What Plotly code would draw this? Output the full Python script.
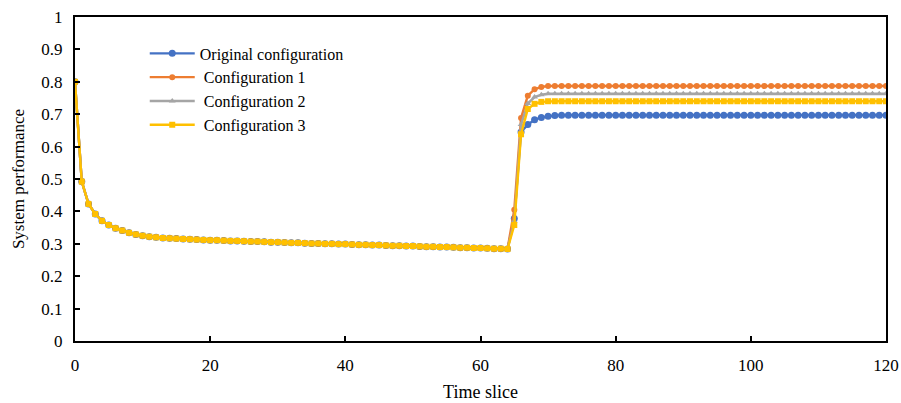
import plotly.graph_objects as go

# Time slices 0..120
time_slice = list(range(0, 121))

# Shared decay phase (slices 0..64), identical across configurations
decay_phase = [
    0.800, 0.492, 0.423, 0.392, 0.371, 0.358, 0.348, 0.341, 0.334, 0.329,
    0.325, 0.322, 0.320, 0.318, 0.317, 0.316, 0.315, 0.314, 0.313, 0.312,
    0.311, 0.311, 0.310, 0.309, 0.309, 0.308, 0.307, 0.307, 0.306, 0.305,
    0.305, 0.304, 0.303, 0.303, 0.302, 0.301, 0.301, 0.300, 0.300, 0.299,
    0.299, 0.298, 0.297, 0.297, 0.296, 0.296, 0.295, 0.294, 0.294, 0.293,
    0.293, 0.292, 0.291, 0.291, 0.290, 0.290, 0.289, 0.288, 0.288, 0.287,
    0.287, 0.286, 0.285, 0.285, 0.284,
]

# Recovery phase (slices 65..120) for each configuration
recovery_original = [
    0.378, 0.645, 0.668, 0.683, 0.690, 0.694, 0.696, 0.697, 0.697, 0.697,
    0.697, 0.697, 0.697, 0.697, 0.697, 0.697, 0.697, 0.697, 0.697, 0.697,
    0.697, 0.697, 0.697, 0.697, 0.697, 0.697, 0.697, 0.697, 0.697, 0.697,
    0.697, 0.697, 0.697, 0.697, 0.697, 0.697, 0.697, 0.697, 0.697, 0.697,
    0.697, 0.697, 0.697, 0.697, 0.697, 0.697, 0.697, 0.697, 0.697, 0.697,
    0.697, 0.697, 0.697, 0.697, 0.697, 0.697,
]
recovery_config1 = [
    0.405, 0.688, 0.757, 0.777, 0.784, 0.787, 0.787, 0.787, 0.787, 0.787,
    0.787, 0.787, 0.787, 0.787, 0.787, 0.787, 0.787, 0.787, 0.787, 0.787,
    0.787, 0.787, 0.787, 0.787, 0.787, 0.787, 0.787, 0.787, 0.787, 0.787,
    0.787, 0.787, 0.787, 0.787, 0.787, 0.787, 0.787, 0.787, 0.787, 0.787,
    0.787, 0.787, 0.787, 0.787, 0.787, 0.787, 0.787, 0.787, 0.787, 0.787,
    0.787, 0.787, 0.787, 0.787, 0.787, 0.787,
]
recovery_config2 = [
    0.370, 0.668, 0.733, 0.753, 0.760, 0.763, 0.763, 0.763, 0.763, 0.763,
    0.763, 0.763, 0.763, 0.763, 0.763, 0.763, 0.763, 0.763, 0.763, 0.763,
    0.763, 0.763, 0.763, 0.763, 0.763, 0.763, 0.763, 0.763, 0.763, 0.763,
    0.763, 0.763, 0.763, 0.763, 0.763, 0.763, 0.763, 0.763, 0.763, 0.763,
    0.763, 0.763, 0.763, 0.763, 0.763, 0.763, 0.763, 0.763, 0.763, 0.763,
    0.763, 0.763, 0.763, 0.763, 0.763, 0.763,
]
recovery_config3 = [
    0.358, 0.638, 0.716, 0.732, 0.738, 0.740, 0.740, 0.740, 0.740, 0.740,
    0.740, 0.740, 0.740, 0.740, 0.740, 0.740, 0.740, 0.740, 0.740, 0.740,
    0.740, 0.740, 0.740, 0.740, 0.740, 0.740, 0.740, 0.740, 0.740, 0.740,
    0.740, 0.740, 0.740, 0.740, 0.740, 0.740, 0.740, 0.740, 0.740, 0.740,
    0.740, 0.740, 0.740, 0.740, 0.740, 0.740, 0.740, 0.740, 0.740, 0.740,
    0.740, 0.740, 0.740, 0.740, 0.740, 0.740,
]

series_names = ["Original configuration", " Configuration 1",
                " Configuration 2", " Configuration 3"]
series_values = [
    decay_phase + recovery_original,
    decay_phase + recovery_config1,
    decay_phase + recovery_config2,
    decay_phase + recovery_config3,
]
series_colors = ["#4472C4", "#ED7D31", "#A5A5A5", "#FFC000"]
series_symbols = ["circle", "circle", "triangle-up", "square"]
series_sizes = [7, 6, 6, 6]

y_ticks = [0, 0.1, 0.2, 0.3, 0.4, 0.5, 0.6, 0.7, 0.8, 0.9, 1]
y_tick_text = ["0", "0.1", "0.2", "0.3", "0.4", "0.5", "0.6", "0.7", "0.8", "0.9", "1"]
x_ticks = [0, 20, 40, 60, 80, 100, 120]

FONT = "Liberation Serif"

fig = go.Figure()
for name, vals, color, sym, size in zip(series_names, series_values,
                                        series_colors, series_symbols, series_sizes):
    fig.add_trace(go.Scatter(
        x=time_slice, y=vals, name=name, mode="lines+markers",
        line=dict(color=color, width=2.4),
        marker=dict(color=color, symbol=sym, size=size, line=dict(width=0)),
    ))

fig.update_layout(
    width=901, height=403,
    margin=dict(l=75, r=15, t=17, b=62),
    paper_bgcolor="white", plot_bgcolor="white",
    font=dict(family=FONT, size=16, color="black"),
    showlegend=True,
    legend=dict(
        x=0.086, y=0.94, xanchor="left", yanchor="top",
        bgcolor="rgba(255,255,255,0)",
        font=dict(family=FONT, size=16, color="black"),
        tracegroupgap=0, itemwidth=45,
    ),
    xaxis=dict(
        range=[0, 120], tickvals=x_ticks, automargin=False,
        showline=True, linecolor="black", linewidth=2, mirror=True,
        ticks="inside", ticklen=5, tickwidth=1.5, tickcolor="black",
        ticklabelstandoff=8,
        showgrid=False, zeroline=False,
        title=dict(text="Time slice", font=dict(family=FONT, size=18), standoff=11),
        tickfont=dict(family=FONT, size=17),
    ),
    yaxis=dict(
        range=[0, 1], tickvals=y_ticks, ticktext=y_tick_text, automargin=False,
        showline=True, linecolor="black", linewidth=2, mirror=True,
        ticks="inside", ticklen=5, tickwidth=1.5, tickcolor="black",
        ticklabelstandoff=7,
        showgrid=False, zeroline=False,
        title=dict(text="System performance", font=dict(family=FONT, size=17), standoff=12),
        tickfont=dict(family=FONT, size=17),
    ),
)

fig.write_html("out.html")
